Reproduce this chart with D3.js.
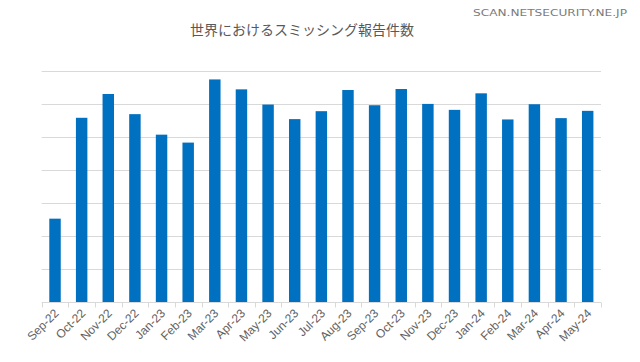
<!DOCTYPE html>
<html>
<head>
<meta charset="utf-8">
<script src="https://cdn.jsdelivr.net/npm/d3@7"></script>
<style>
  html, body { margin: 0; padding: 0; background: #fff; }
  svg { display: block; }
  .axis-label { font-family: 'Liberation Sans', Arial, sans-serif; font-size: 12px; fill: #626262; }
  .title { font-family: 'Noto Sans CJK JP', sans-serif; font-size: 14px; fill: #595959; }
  .credit { font-family: 'DejaVu Sans', sans-serif; font-size: 9px; fill: #7a7a7a; }
</style>
</head>
<body>
<div class="chart"></div>
<script>
const MONTHS = ['Sep-22', 'Oct-22', 'Nov-22', 'Dec-22', 'Jan-23', 'Feb-23', 'Mar-23', 'Apr-23',
  'May-23', 'Jun-23', 'Jul-23', 'Aug-23', 'Sep-23', 'Oct-23', 'Nov-23', 'Dec-23', 'Jan-24',
  'Feb-24', 'Mar-24', 'Apr-24', 'May-24']
// no y labels on the original, values estimated in grid units x1000
const REPORTS = [2520, 5570, 6290, 5680, 5060, 4820, 6730, 6430, 5970, 5530, 5770, 6410,
  5950, 6440, 5990, 5810, 6310, 5520, 5980, 5560, 5780]
const GRID_TICKS = [1000, 2000, 3000, 4000, 5000, 6000, 7000]
const TITLE = '世界におけるスミッシング報告件数'
const CREDIT = 'SCAN.NETSECURITY.NE.JP'

const width = 640
const height = 362
const plot = {left: 41.7, right: 601, top: 70.5, bottom: 302}

const data = MONTHS.map((m, i) => ({month: m, value: REPORTS[i]}))

const svg = d3.select('.chart').append('svg')
  .attr('width', width)
  .attr('height', height)

const x = d3.scaleBand()
  .domain(MONTHS)
  .range([plot.left, plot.right])
  .paddingInner(0.57)
  .paddingOuter(0.285)

const y = d3.scaleLinear()
  .domain([0, 7000])
  .range([plot.bottom, plot.top])

// gridlines
svg.append('g').attr('class', 'grid')
  .selectAll('line')
  .data(GRID_TICKS)
  .join('line')
    .attr('x1', plot.left)
    .attr('x2', plot.right)
    .attr('y1', d => Math.round(y(d)) + 0.5)
    .attr('y2', d => Math.round(y(d)) + 0.5)
    .attr('stroke', '#d9d9d9')
    .attr('stroke-width', 1)

// bars
svg.append('g').attr('class', 'bars')
  .selectAll('rect')
  .data(data)
  .join('rect')
    .attr('x', d => x(d.month))
    .attr('width', x.bandwidth())
    .attr('y', d => y(d.value))
    .attr('height', d => y(0) - y(d.value))
    .attr('fill', '#0070c0')

// x axis: baseline + tick marks between categories
const step = x.step()
const base = Math.round(y(0)) + 0.5
const axis = svg.append('g').attr('class', 'axis axis--x')

axis.append('line')
  .attr('x1', plot.left)
  .attr('x2', plot.right)
  .attr('y1', base)
  .attr('y2', base)
  .attr('stroke', '#d9d9d9')

axis.selectAll('line.tick')
  .data(d3.range(MONTHS.length + 1))
  .join('line')
    .attr('class', 'tick')
    .attr('x1', i => Math.round(plot.left + i * step) + 0.5)
    .attr('x2', i => Math.round(plot.left + i * step) + 0.5)
    .attr('y1', base)
    .attr('y2', base + 5)
    .attr('stroke', '#d9d9d9')

axis.selectAll('text')
  .data(MONTHS)
  .join('text')
    .attr('class', 'axis-label')
    .attr('text-anchor', 'end')
    .attr('transform', d => `translate(${x(d) + x.bandwidth() / 2 + 4.5}, 314) rotate(-45)`)
    .text(d => d)

svg.append('text')
  .attr('class', 'title')
  .attr('x', 302)
  .attr('y', 35)
  .attr('text-anchor', 'middle')
  .text(TITLE)

svg.append('text')
  .attr('class', 'credit')
  .attr('x', 473)
  .attr('y', 16)
  .attr('textLength', 154)
  .attr('lengthAdjust', 'spacingAndGlyphs')
  .text(CREDIT)
</script>
</body>
</html>
